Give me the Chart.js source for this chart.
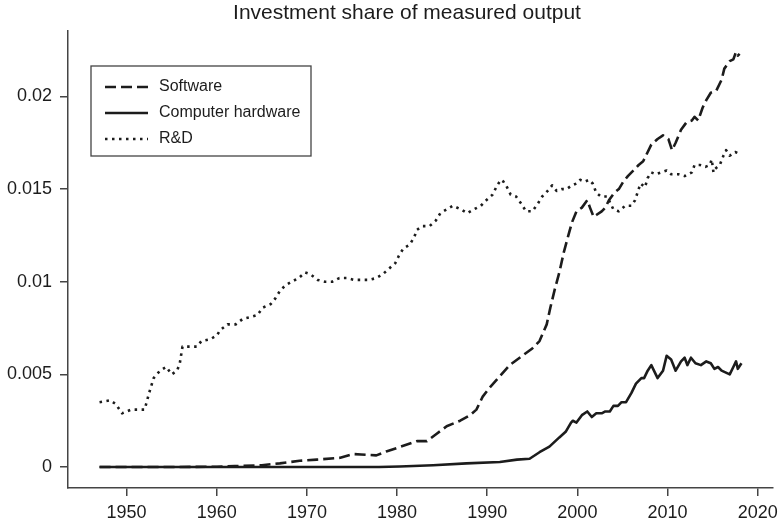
<!DOCTYPE html>
<html>
<head>
<meta charset="utf-8">
<script src="https://cdn.jsdelivr.net/npm/chart.js@4/dist/chart.umd.min.js"></script>
<style>
  html, body { margin: 0; padding: 0; background: #fff; }
  #wrap { width: 780px; height: 525px; }
</style>
</head>
<body>
<div id="wrap"><canvas id="cShare" width="780" height="525"></canvas></div>
<script>
// data (year, share of output)
const chartTitle = 'Investment share of measured output';
const seriesNames = ['Software', 'Computer hardware', 'R&D'];

const swYears = [1947, 1955, 1960, 1962, 1965, 1967, 1969.2, 1971.1, 1973.7, 1975.1, 1976, 1977.7, 1978.8, 1980.3,
  1982.2, 1983.3, 1984.4, 1985.5, 1987, 1988.1, 1988.8, 1989.5, 1990.3, 1991.4, 1992.5, 1993.6, 1995, 1995.8,
  1996.6, 1997, 1997.5, 1998, 1998.5, 1999, 1999.4, 1999.9, 2000.5, 2001.1, 2001.4, 2001.8, 2002.1, 2002.7,
  2003.1, 2003.5, 2004.1, 2004.6, 2005.1, 2005.6, 2006.2, 2006.8, 2007.3, 2007.6, 2008.2, 2008.9, 2009.5,
  2010.1, 2010.5, 2010.9, 2011.5, 2012.1, 2012.7, 2013, 2013.4, 2013.9, 2014.3, 2014.8, 2015.4, 2016, 2016.3,
  2016.9, 2017.3, 2017.6, 2017.8, 2018];
const swShare = [0, 0, 0.00002, 0.00005, 0.0001, 0.0002, 0.00034, 0.0004, 0.0005, 0.0007, 0.00068, 0.00063, 0.00084, 0.00108,
  0.0014, 0.0014, 0.0018, 0.0022, 0.0025, 0.0028, 0.0031, 0.0038, 0.0043, 0.0049, 0.0055, 0.0059, 0.0064, 0.0068,
  0.0077, 0.0086, 0.0096, 0.0105, 0.0116, 0.0125, 0.0132, 0.0138, 0.014, 0.0144, 0.014, 0.0135, 0.0136, 0.0138,
  0.014, 0.0144, 0.0148, 0.015, 0.0154, 0.0157, 0.016, 0.0163, 0.0165, 0.0168, 0.0174, 0.0177, 0.0179,
  0.0177, 0.0171, 0.0175, 0.0182, 0.0186, 0.0187, 0.0189, 0.0187, 0.0194, 0.0198, 0.0202, 0.0203, 0.0209, 0.0215,
  0.0219, 0.022, 0.0224, 0.0222, 0.0223];

const hwYears = [1947, 1960, 1970, 1978, 1980.3, 1984, 1987.7, 1991.4, 1993.3, 1994.7, 1995.8, 1996.9, 1998, 1998.7,
  1999.3, 1999.5, 1999.9, 2000.5, 2001.1, 2001.6, 2002.1, 2002.7, 2003.1, 2003.6, 2004, 2004.5, 2004.9, 2005.4,
  2006, 2006.5, 2007.1, 2007.4, 2007.8, 2008.2, 2008.9, 2009.5, 2009.9, 2010.4, 2010.9, 2011.5, 2011.9, 2012.2,
  2012.6, 2013.1, 2013.7, 2014.3, 2014.8, 2015.2, 2015.6, 2016, 2016.9, 2017.3, 2017.6, 2017.8, 2018.2];
const hwShare = [0, 0, 0, 0, 0.00003, 0.0001, 0.0002, 0.00027, 0.0004, 0.00045, 0.0008, 0.0011, 0.0016, 0.0019,
  0.0024, 0.0025, 0.0024, 0.0028, 0.003, 0.0027, 0.0029, 0.0029, 0.003, 0.003, 0.0033, 0.0033, 0.0035, 0.0035,
  0.004, 0.0045, 0.0048, 0.0048, 0.0052, 0.0055, 0.0048, 0.0052, 0.006, 0.0058, 0.0052, 0.0057, 0.0059, 0.0055,
  0.0059, 0.0056, 0.0055, 0.0057, 0.0056, 0.0053, 0.0054, 0.0052, 0.005, 0.0054, 0.0057, 0.0053, 0.0056];

const rdYears = [1947, 1948.2, 1948.8, 1949.5, 1950.5, 1951.3, 1952, 1952.5, 1953, 1953.7, 1954.4, 1955, 1955.6, 1955.9,
  1956.2, 1957, 1957.8, 1958.3, 1959.3, 1960, 1960.4, 1961.2, 1962.1, 1962.9, 1963.8, 1964.5, 1965.1, 1966,
  1966.5, 1967, 1967.6, 1968.3, 1969.1, 1969.8, 1970.4, 1971.2, 1972, 1972.8, 1973.6, 1974.4, 1975.2, 1976,
  1976.9, 1977.7, 1978.4, 1979.1, 1979.8, 1980.2, 1980.7, 1981.4, 1981.9, 1982.2, 1982.8, 1983.6, 1984.3,
  1984.8, 1985.5, 1986.2, 1987.1, 1987.8, 1988.5, 1989.3, 1989.9, 1990.6, 1991, 1991.5, 1991.8, 1992.2, 1992.6,
  1993.2, 1993.8, 1994.3, 1995, 1995.6, 1996.1, 1996.7, 1997.2, 1997.7, 1998.3, 1998.8, 1999.4, 1999.9, 2000.3,
  2000.8, 2001.3, 2001.7, 2002.1, 2002.6, 2003.3, 2003.7, 2004, 2004.6, 2005.3, 2006, 2006.4, 2006.8, 2007,
  2007.5, 2007.8, 2008.2, 2008.7, 2009.3, 2009.9, 2010.4, 2011.2, 2011.9, 2012.7, 2013, 2013.6, 2014.2, 2014.7,
  2014.9, 2015.1, 2015.3, 2015.8, 2016.2, 2016.5, 2016.9, 2017.5, 2018];
const rdShare = [0.0035, 0.0036, 0.0034, 0.0029, 0.0031, 0.0031, 0.0031, 0.004, 0.0048, 0.0052, 0.0054, 0.005, 0.0052, 0.0056,
  0.0065, 0.0065, 0.0065, 0.0068, 0.0069, 0.0071, 0.0074, 0.0077, 0.0077, 0.008, 0.0081, 0.0082, 0.0086, 0.0088,
  0.0091, 0.0095, 0.0098, 0.01, 0.0102, 0.0105, 0.0104, 0.0101, 0.01, 0.01, 0.0102, 0.0102, 0.0101, 0.0101,
  0.0101, 0.0102, 0.0104, 0.0107, 0.011, 0.0114, 0.0118, 0.012, 0.0124, 0.0128, 0.013, 0.013, 0.0133,
  0.0137, 0.0139, 0.0141, 0.0139, 0.0137, 0.0139, 0.0141, 0.0144, 0.0147, 0.0151, 0.0155, 0.0154, 0.0151, 0.0147,
  0.0146, 0.0142, 0.0138, 0.0138, 0.0142, 0.0146, 0.0149, 0.0152, 0.0149, 0.015, 0.015, 0.0152, 0.0153, 0.0155,
  0.0154, 0.0155, 0.0153, 0.0148, 0.0146, 0.0146, 0.0142, 0.0139, 0.0138, 0.0141, 0.0141, 0.0144, 0.015, 0.0153,
  0.0151, 0.0156, 0.0159, 0.0158, 0.0159, 0.016, 0.0158, 0.0158, 0.0157, 0.0159, 0.0163, 0.0163, 0.0162, 0.0163,
  0.0166, 0.0159, 0.0161, 0.0163, 0.0168, 0.0171, 0.0168, 0.017, 0.0169];

const xTicks = [1950, 1960, 1970, 1980, 1990, 2000, 2010, 2020];
const yTicks = [0, 0.005, 0.01, 0.015, 0.02];
const yTickLabels = ['0', '0.005', '0.01', '0.015', '0.02'];

const ink = '#1c1c1c';
const axisInk = '#444';
const fontFam = '"Liberation Sans", Arial, Helvetica, sans-serif';

function toPoints(xs, ys) {
  return xs.map((x, i) => ({ x: x, y: ys[i] }));
}

// title sits a bit right of the canvas centre, so draw it by hand
const topTitle = {
  id: 'topTitle',
  afterDraw(chart) {
    const c = chart.ctx;
    c.save();
    c.fillStyle = ink;
    c.font = '21px ' + fontFam;
    c.textAlign = 'center';
    c.textBaseline = 'middle';
    c.fillText(chartTitle, 407, 13);
    c.restore();
  }
};

// legend box drawn inside the plot, top left
const boxLegend = {
  id: 'boxLegend',
  afterDatasetsDraw(chart) {
    const c = chart.ctx;
    const bx = 91, by = 66, bw = 220, bh = 90;
    c.save();
    c.fillStyle = '#fff';
    c.fillRect(bx, by, bw, bh);
    c.strokeStyle = axisInk;
    c.lineWidth = 1.3;
    c.strokeRect(bx, by, bw, bh);
    chart.data.datasets.forEach((ds, i) => {
      const y = by + 21 + i * 26;
      c.beginPath();
      c.setLineDash(ds.borderDash || []);
      c.lineWidth = ds.borderWidth;
      c.strokeStyle = ds.borderColor;
      c.moveTo(105, y);
      c.lineTo(148, y);
      c.stroke();
      c.setLineDash([]);
      c.fillStyle = ink;
      c.font = '16px ' + fontFam;
      c.textBaseline = 'middle';
      c.fillText(ds.label, 159, y);
    });
    c.restore();
  }
};

const ctx = document.getElementById('cShare').getContext('2d');
new Chart(ctx, {
  type: 'line',
  data: {
    datasets: [
      { label: seriesNames[0], data: toPoints(swYears, swShare), borderColor: ink, borderWidth: 2.6, borderDash: [11, 5] },
      { label: seriesNames[1], data: toPoints(hwYears, hwShare), borderColor: ink, borderWidth: 2.6 },
      { label: seriesNames[2], data: toPoints(rdYears, rdShare), borderColor: ink, borderWidth: 2.6, borderDash: [2.5, 4.5] }
    ]
  },
  options: {
    responsive: false,
    animation: false,
    devicePixelRatio: 1,
    layout: { autoPadding: false, padding: { left: 0, right: 7, top: 31, bottom: 0 } },
    elements: {
      point: { radius: 0 },
      line: { tension: 0, fill: false, borderCapStyle: 'butt', borderJoinStyle: 'round' }
    },
    plugins: {
      legend: { display: false },
      tooltip: { enabled: false },
      title: { display: false }
    },
    scales: {
      x: {
        type: 'linear',
        min: 1943.5,
        max: 2021.7,
        afterBuildTicks: (s) => { s.ticks = xTicks.map(v => ({ value: v })); },
        afterFit: (s) => { s.height = 37; s.paddingLeft = 0; s.paddingRight = 0; },
        grid: { drawOnChartArea: false, drawTicks: true, tickLength: 8, color: axisInk, lineWidth: 1.5 },
        border: { display: true, color: axisInk, width: 1.5 },
        ticks: { color: ink, padding: 6, maxRotation: 0, font: { family: fontFam, size: 18 }, callback: (v) => String(v) }
      },
      y: {
        min: -0.00113,
        max: 0.02353,
        afterBuildTicks: (s) => { s.ticks = yTicks.map(v => ({ value: v })); },
        afterFit: (s) => { s.width = 68; s.paddingTop = 0; s.paddingBottom = 0; },
        grid: { drawOnChartArea: false, drawTicks: true, tickLength: 8, color: axisInk, lineWidth: 1.5 },
        border: { display: true, color: axisInk, width: 1.5 },
        ticks: {
          color: ink, padding: 8, font: { family: fontFam, size: 18 },
          callback: (v) => { const k = yTicks.indexOf(v); return k >= 0 ? yTickLabels[k] : ''; }
        }
      }
    }
  },
  plugins: [boxLegend, topTitle]
});
</script>
</body>
</html>
